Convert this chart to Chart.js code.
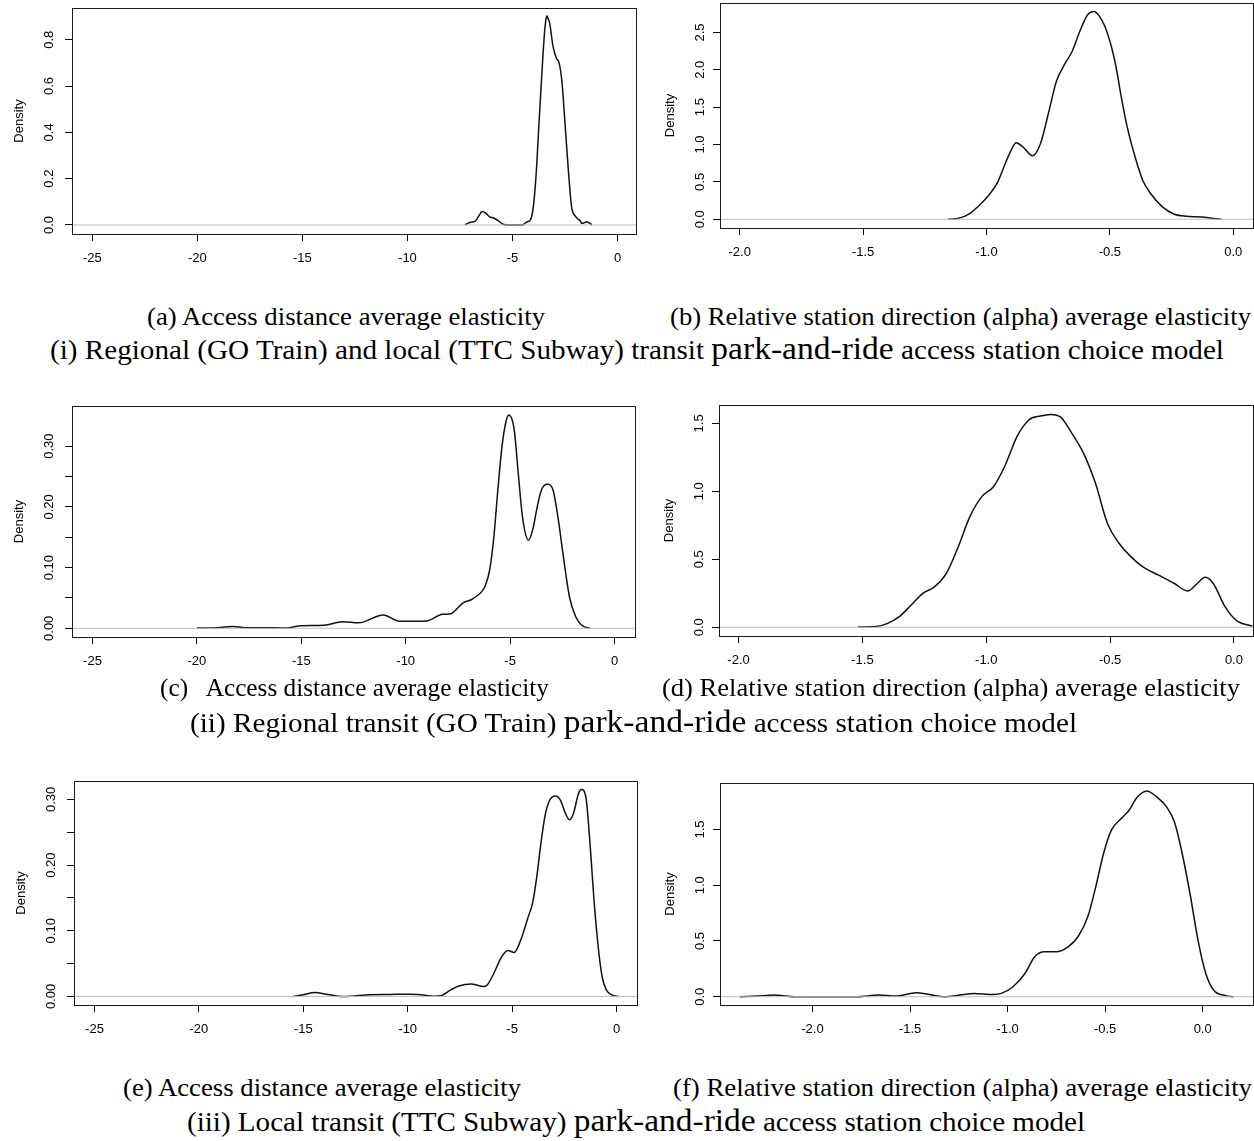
<!DOCTYPE html>
<html>
<head>
<meta charset="utf-8">
<script src="https://cdn.jsdelivr.net/npm/chart.js@4.4.1/dist/chart.umd.min.js"></script>
<style>
  html, body { margin: 0; padding: 0; background: #fff; }
  #page { position: relative; width: 1254px; height: 1141px; overflow: hidden; }
  #page canvas { position: absolute; }
  .cap { position: absolute; font-family: "Liberation Serif", "Times New Roman", serif; color: #000;
         white-space: pre; line-height: 1; transform-origin: 0 0; }
  .big { font-size: 1.15em; }
</style>
</head>
<body>
<div id="page"></div>
<script>
// density curves (x = elasticity, y = density)

// (a) access distance, GO + TTC
const accessAllX = [-7.26, -7.0, -6.77, -6.62, -6.44, -6.29, -6.09, -5.9, -5.7, -5.45, -5.21, -4.53, -4.34, -4.16,
  -4.05, -3.95, -3.85, -3.75, -3.655, -3.5, -3.42, -3.36, -3.3, -3.23, -3.07, -2.91, -2.78, -2.64, -2.49, -2.33,
  -2.19, -2.0, -1.8, -1.67, -1.47, -1.22];
const accessAllY = [0, 0.012, 0.017, 0.037, 0.058, 0.052, 0.035, 0.03, 0.02, 0.003, 0, 0, 0.012, 0.02,
  0.052, 0.13, 0.253, 0.42, 0.57, 0.8, 0.88, 0.904, 0.89, 0.872, 0.771, 0.72, 0.70, 0.613, 0.426, 0.224,
  0.08, 0.037, 0.02, 0.006, 0.014, 0];

// (b) station direction, GO + TTC
const alphaAllX = [-1.155, -1.116, -1.068, -1.036, -0.996, -0.956, -0.924, -0.9, -0.88, -0.853, -0.813, -0.781,
  -0.749, -0.717, -0.685, -0.653, -0.622, -0.59, -0.566, -0.542, -0.51, -0.478, -0.454, -0.43, -0.398, -0.367,
  -0.335, -0.287, -0.239, -0.191, -0.127, -0.08, -0.048];
const alphaAllY = [0, 0.009, 0.076, 0.165, 0.30, 0.487, 0.747, 0.926, 1.024, 0.97, 0.85, 1.015,
  1.418, 1.843, 2.066, 2.245, 2.513, 2.737, 2.78, 2.714, 2.49, 2.088, 1.641, 1.239, 0.836, 0.523,
  0.344, 0.165, 0.067, 0.04, 0.031, 0.009, 0];

// (c) access distance, GO Train
const accessGoX = [-20.0, -19.0, -18.3, -17.65, -16.86, -15.7, -15.0, -13.9, -13.04, -12.25, -11.08, -10.29,
  -9.02, -8.24, -7.84, -7.55, -7.25, -6.86, -6.57, -6.37, -6.18, -5.98, -5.78, -5.59, -5.39, -5.2, -5.06,
  -4.8, -4.61, -4.41, -4.12, -3.92, -3.73, -3.53, -3.24, -3.18, -2.94, -2.71, -2.45, -2.16, -1.86, -1.57, -1.18];
const accessGoY = [0.0005, 0.001, 0.003, 0.001, 0.001, 0.0005, 0.0044, 0.005, 0.011, 0.009, 0.022, 0.0115,
  0.012, 0.023, 0.024, 0.032, 0.042, 0.047, 0.054, 0.06, 0.071, 0.096, 0.15, 0.227, 0.299, 0.34, 0.351,
  0.326, 0.255, 0.184, 0.145, 0.162, 0.195, 0.225, 0.237, 0.237, 0.227, 0.183, 0.118, 0.052, 0.019, 0.005, 0];

// (d) station direction, GO Train
const alphaGoX = [-1.517, -1.446, -1.398, -1.351, -1.303, -1.256, -1.208, -1.161, -1.113, -1.066, -1.018, -0.971,
  -0.923, -0.876, -0.828, -0.781, -0.741, -0.702, -0.654, -0.607, -0.559, -0.511, -0.464, -0.416, -0.369, -0.306,
  -0.242, -0.187, -0.147, -0.116, -0.084, -0.036, 0.011, 0.074];
const alphaGoY = [0.002, 0.005, 0.029, 0.078, 0.164, 0.25, 0.299, 0.397, 0.593, 0.814, 0.961, 1.034,
  1.194, 1.402, 1.525, 1.554, 1.566, 1.549, 1.426, 1.279, 1.059, 0.765, 0.618, 0.52, 0.446, 0.385,
  0.324, 0.267, 0.324, 0.368, 0.324, 0.152, 0.049, 0.01];

// (e) access distance, TTC Subway
const accessTtcX = [-15.49, -15.0, -14.45, -13.82, -13.14, -12.45, -11.86, -10.88, -9.9, -9.51, -8.73, -8.43,
  -7.94, -7.55, -6.96, -6.37, -6.18, -5.88, -5.49, -5.2, -4.9, -4.61, -4.22, -4.02, -3.82, -3.63, -3.43, -3.24,
  -2.94, -2.69, -2.45, -2.25, -2.06, -1.82, -1.67, -1.47, -1.27, -1.08, -0.88, -0.69, -0.49, -0.2, 0.1];
const accessTtcY = [0, 0.0025, 0.006, 0.003, 0, 0.001, 0.0025, 0.003, 0.0035, 0.003, 0.0005, 0.001,
  0.01, 0.016, 0.019, 0.015, 0.018, 0.035, 0.061, 0.07, 0.067, 0.084, 0.122, 0.142, 0.182, 0.231, 0.274, 0.296,
  0.305, 0.299, 0.279, 0.269, 0.279, 0.309, 0.315, 0.304, 0.233, 0.147, 0.076, 0.03, 0.01, 0.002, 0];

// (f) station direction, TTC Subway
const alphaTtcX = [-2.373, -2.282, -2.202, -2.081, -1.778, -1.657, -1.577, -1.466, -1.415, -1.315, -1.173, -1.073,
  -1.032, -0.972, -0.911, -0.861, -0.81, -0.75, -0.69, -0.639, -0.589, -0.548, -0.508, -0.468, -0.417, -0.377,
  -0.337, -0.286, -0.236, -0.185, -0.145, -0.105, -0.065, -0.024, 0.016, 0.056, 0.117, 0.157];
const alphaTtcY = [0, 0.006, 0.015, 0, 0, 0.015, 0.006, 0.036, 0.024, 0, 0.03, 0.021,
  0.03, 0.09, 0.209, 0.359, 0.403, 0.403, 0.448, 0.538, 0.717, 0.986, 1.285, 1.494, 1.598, 1.673,
  1.787, 1.846, 1.793, 1.703, 1.569, 1.285, 0.926, 0.508, 0.209, 0.06, 0.009, 0];

// tick values and labels
const distTicks = [-25, -20, -15, -10, -5, 0];
const distTickLabels = ['-25', '-20', '-15', '-10', '-5', '0'];
const alphaTicks = [-2, -1.5, -1, -0.5, 0];
const alphaTickLabels = ['-2.0', '-1.5', '-1.0', '-0.5', '0.0'];
const densTicksA = [0, 0.2, 0.4, 0.6, 0.8];
const densLabelsA = ['0.0', '0.2', '0.4', '0.6', '0.8'];
const densTicksB = [0, 0.5, 1, 1.5, 2, 2.5];
const densLabelsB = ['0.0', '0.5', '1.0', '1.5', '2.0', '2.5'];
const densTicksSmall = [0, 0.05, 0.1, 0.15, 0.2, 0.25, 0.3];
const densLabelsSmall = ['0.00', '', '0.10', '', '0.20', '', '0.30'];
const densTicksD = [0, 0.5, 1, 1.5];
const densLabelsD = ['0.0', '0.5', '1.0', '1.5'];

// one entry per plot: data, axis limits and the pixel box of the plot region
const panels = [
  { x: accessAllX, y: accessAllY, xt: distTicks, xl: distTickLabels, yt: densTicksA, yl: densLabelsA,
    xr: [-25.97, 0.88], yr: [-0.039, 0.937], box: [72, 8, 636, 234], col: 0 },
  { x: alphaAllX, y: alphaAllY, xt: alphaTicks, xl: alphaTickLabels, yt: densTicksB, yl: densLabelsB,
    xr: [-2.08, 0.08], yr: [-0.117, 2.894], box: [720, 3, 1253, 228], col: 1 },
  { x: accessGoX, y: accessGoY, xt: distTicks, xl: distTickLabels, yt: densTicksSmall, yl: densLabelsSmall,
    xr: [-25.98, 0.98], yr: [-0.0143, 0.366], box: [72, 406, 635, 637], col: 0 },
  { x: alphaGoX, y: alphaGoY, xt: alphaTicks, xl: alphaTickLabels, yt: densTicksD, yl: densLabelsD,
    xr: [-2.079, 0.077], yr: [-0.064, 1.635], box: [719, 405, 1253, 636], col: 1 },
  { x: accessTtcX, y: accessTtcY, xt: distTicks, xl: distTickLabels, yt: densTicksSmall, yl: densLabelsSmall,
    xr: [-25.98, 0.98], yr: [-0.013, 0.328], box: [74, 781, 637, 1005], col: 0 },
  { x: alphaTtcX, y: alphaTtcY, xt: alphaTicks, xl: alphaTickLabels, yt: densTicksD, yl: densLabelsD,
    xr: [-2.474, 0.258], yr: [-0.074, 1.917], box: [720, 783, 1253, 1005], col: 1 }
];

const captions = [
  { html: '(a) Access distance average elasticity', x0: 147, x1: 545, cy: 319, size: 25 },
  { html: '(b) Relative station direction (alpha) average elasticity', x0: 670, x1: 1251, cy: 319, size: 25 },
  { html: '(i) Regional (GO Train) and local (TTC Subway) transit <span class="big">park-and-ride</span> access station choice model', x0: 50, x1: 1224, cy: 349, size: 27 },
  { html: '(c)   Access distance average elasticity', x0: 160, x1: 549, cy: 690, size: 25 },
  { html: '(d) Relative station direction (alpha) average elasticity', x0: 662, x1: 1240, cy: 690, size: 25 },
  { html: '(ii) Regional transit (GO Train) <span class="big">park-and-ride</span> access station choice model', x0: 190, x1: 1077, cy: 722, size: 27 },
  { html: '(e) Access distance average elasticity', x0: 123, x1: 521, cy: 1090, size: 25 },
  { html: '(f) Relative station direction (alpha) average elasticity', x0: 673, x1: 1252, cy: 1090, size: 25 },
  { html: '(iii) Local transit (TTC Subway) <span class="big">park-and-ride</span> access station choice model', x0: 187, x1: 1085, cy: 1121, size: 27 }
];

const page = document.getElementById('page');
const tickFont = { family: 'Liberation Sans', size: 13 };
const tickLen = 7;
// distance from the plot edge to the centre of y tick labels / y title, per column
const yLabelGap = [23, 20];
const yTitleGap = [53, 49.5];

// draws the closed box round the plot region, like R's box()
const plotBox = {
  id: 'plotBox',
  afterDraw(chart) {
    const { ctx, chartArea: a } = chart;
    ctx.save();
    ctx.strokeStyle = '#1a1a1a';
    ctx.lineWidth = 1;
    ctx.strokeRect(a.left + 0.5, a.top + 0.5, a.right - a.left, a.bottom - a.top);
    ctx.restore();
  }
};

const measure = document.createElement('canvas').getContext('2d');
measure.font = '13px "Liberation Sans"';

panels.forEach(p => {
  const left = p.col ? 640 : 0;
  const width = p.col ? 614 : 640;
  const top = Math.max(0, p.box[1] - 10);
  const height = p.box[3] - top + 40;

  const canvas = document.createElement('canvas');
  canvas.width = width;
  canvas.height = height;
  canvas.style.left = left + 'px';
  canvas.style.top = top + 'px';
  page.appendChild(canvas);

  const widest = Math.max(...p.yl.map(s => measure.measureText(s).width));
  const yPad = yLabelGap[p.col] - tickLen - widest / 2;
  const titlePad = (p.box[0] - yTitleGap[p.col]) - left - 7.8;
  const yAxisW = p.box[0] - left;

  const gridOpts = { display: true, drawOnChartArea: false, drawTicks: true, tickLength: tickLen, color: '#000', lineWidth: 1 };

  new Chart(canvas, {
    type: 'line',
    data: {
      datasets: [
        {
          // zero line drawn on top of the curve, as plot.density does
          data: [{ x: p.xr[0], y: 0 }, { x: p.xr[1], y: 0 }],
          borderColor: '#bebebe', borderWidth: 1, pointRadius: 0
        },
        {
          data: p.x.map((v, i) => ({ x: v, y: p.y[i] })),
          borderColor: '#111', borderWidth: 1.5, pointRadius: 0,
          cubicInterpolationMode: 'monotone'
        }
      ]
    },
    options: {
      responsive: false,
      animation: false,
      layout: { padding: { top: p.box[1] - top, right: left + width - p.box[2], left: 0, bottom: 0 } },
      plugins: { legend: { display: false }, tooltip: { enabled: false } },
      scales: {
        x: {
          type: 'linear', min: p.xr[0], max: p.xr[1],
          afterBuildTicks: s => { s.ticks = p.xt.map(v => ({ value: v })); },
          afterFit: s => { s.height = 40; s.paddingLeft = 0; s.paddingRight = 0; },
          grid: gridOpts,
          border: { display: false },
          ticks: { font: tickFont, color: '#000', padding: 10, maxRotation: 0, autoSkip: false,
                   callback: (v, i) => p.xl[i] }
        },
        y: {
          type: 'linear', min: p.yr[0], max: p.yr[1],
          afterBuildTicks: s => { s.ticks = p.yt.map(v => ({ value: v })); },
          afterFit: s => { s.width = yAxisW; s.paddingTop = 0; s.paddingBottom = 0; },
          grid: gridOpts,
          border: { display: false },
          title: { display: true, text: 'Density', color: '#000',
                   font: { family: 'Liberation Sans', size: 13 }, padding: { top: titlePad, bottom: 0 } },
          ticks: { font: tickFont, color: '#000', padding: yPad, minRotation: 90, maxRotation: 90,
                   crossAlign: 'center', autoSkip: false, callback: (v, i) => p.yl[i] }
        }
      }
    },
    plugins: [plotBox]
  });
});

// captions under each row; stretched to the width they take in the picture
captions.forEach(c => {
  const el = document.createElement('div');
  el.className = 'cap';
  el.style.fontSize = c.size + 'px';
  el.innerHTML = c.html;
  page.appendChild(el);
  const w = el.getBoundingClientRect().width;
  el.style.left = c.x0 + 'px';
  el.style.top = (c.cy - 0.6 * c.size) + 'px';
  el.style.transform = 'scaleX(' + ((c.x1 - c.x0) / w).toFixed(4) + ')';
});
</script>
</body>
</html>
